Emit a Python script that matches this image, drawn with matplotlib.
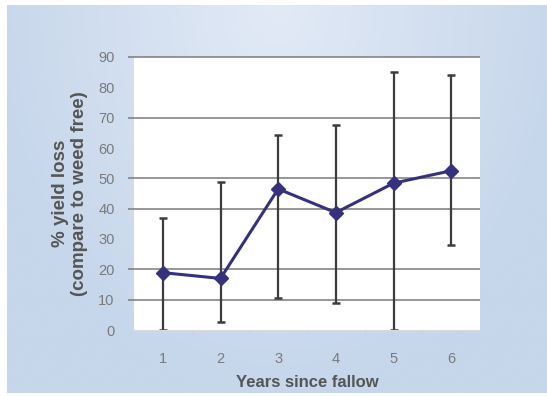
import numpy as np
import matplotlib
matplotlib.use("Agg")
import matplotlib.pyplot as plt

plt.rcParams['font.family'] = ['Liberation Sans', 'DejaVu Sans']

years = [1, 2, 3, 4, 5, 6]
yield_loss = [18.9, 17.0, 46.5, 38.7, 48.4, 52.5]
err_low = [0.0, 2.5, 10.7, 9.0, 0.0, 28.0]
err_high = [37.0, 48.7, 64.3, 67.5, 85.0, 84.2]
grid_levels = [10, 20, 40, 50, 70, 90]
y_ticks = [0, 10, 20, 30, 40, 50, 60, 70, 80, 90]

W, H = 547, 396
fig = plt.figure(figsize=(W / 100, H / 100), dpi=100, facecolor="white")

# soft blue slide background
bg = fig.add_axes([7 / W, 3 / H, 1 - 7 / W, 1 - 8 / H])
gx, gy = np.meshgrid(np.linspace(-1, 1, 200), np.linspace(0, 1, 150))
r = np.clip(np.sqrt((gx / 1.1) ** 2 + (gy / 1.0) ** 2), 0, 1)
c_in = np.array([0xe2, 0xea, 0xf6]) / 255
c_out = np.array([0xc6, 0xd6, 0xeb]) / 255
img = c_in[None, None, :] * (1 - r[..., None]) + c_out[None, None, :] * r[..., None]
bg.imshow(img, aspect="auto", extent=[0, 1, 0, 1], origin="upper")
bg.set_axis_off()

ax = fig.add_axes([134 / W, 1 - 330 / H, (480 - 134) / W, (330 - 57) / H])
ax.set_facecolor("white")
ax.set_xlim(0.5, 6.5)
ax.set_ylim(0, 90)

ax.hlines(grid_levels, -0.018, 1, transform=ax.get_yaxis_transform(),
          color="#7a7a7a", lw=1.1, clip_on=False, zorder=1)

lower = np.array(yield_loss) - np.array(err_low)
upper = np.array(err_high) - np.array(yield_loss)
ax.errorbar(years, yield_loss, yerr=[lower, upper], fmt="none", ecolor="#3c3c3c",
            elinewidth=1.6, capsize=3.2, capthick=1.8, zorder=2)
ax.plot(years, yield_loss, color="#35317c", lw=2.2, marker="D", markersize=7.5,
        markerfacecolor="#35317c", markeredgecolor="#35317c", zorder=3)

for s in ["top", "right", "left"]:
    ax.spines[s].set_visible(False)
ax.spines["bottom"].set_color("#dadada")

ax.set_yticks(y_ticks)
ax.set_xticks(years)
ax.set_xticks([1.5, 2.5, 3.5, 4.5, 5.5], minor=True)
ax.tick_params(axis="y", length=0, pad=14, labelsize=10.5, labelcolor="#7a7a7a")
ax.tick_params(axis="x", which="major", length=0, pad=16, labelsize=10.5, labelcolor="#7a7a7a")
ax.tick_params(axis="x", which="minor", length=3, color="#cfcfcf")

ax.set_xlabel("Years since fallow", fontsize=12, fontweight="bold", color="#555555", labelpad=6)
ax.set_ylabel("% yield loss\n(compare to weed free)", fontsize=13.5, fontweight="bold",
              color="#555555", labelpad=7, linespacing=1.2)

fig.savefig("out.png", dpi=100)
